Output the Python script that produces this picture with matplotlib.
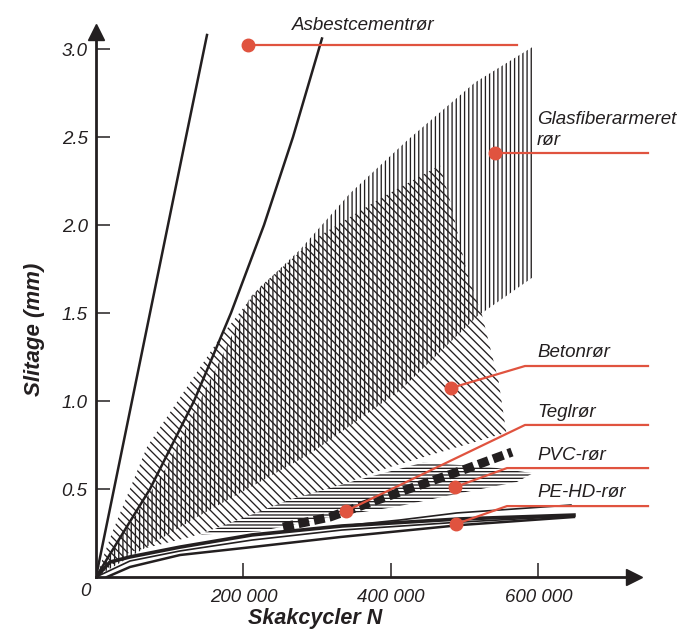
import matplotlib
matplotlib.use('agg')
import matplotlib.pyplot as plt

plt.rcParams['font.family'] = ['Liberation Sans', 'DejaVu Sans']
plt.rcParams['hatch.linewidth'] = 0.95
plt.rcParams['hatch.color'] = '#231f20'

INK = '#231f20'
RED = '#e0533f'

# asbestcement - two bounding curves
asb1_x = [0, 24400, 48800, 73200, 97600, 122000, 150500]
asb1_y = [0, 0.5, 1.0, 1.5, 2.0, 2.5, 3.08]
asb2_x = [0, 73200, 132900, 183000, 227800, 267100, 306400]
asb2_y = [0, 0.5, 1.0, 1.5, 2.0, 2.5, 3.06]

# glasfiberarmeret - vertical hatch region
glas_top_x = [0, 93600, 168100, 208800, 276600, 344400, 421700, 513900, 591200]
glas_top_y = [0, 0.61, 1.23, 1.59, 1.86, 2.18, 2.48, 2.81, 3.01]
glas_bot_x = [591200, 516600, 412200, 290200, 141000, 0]
glas_bot_y = [1.70, 1.48, 1.06, 0.70, 0.35, 0]

# beton - diagonal hatch region
beton_top_x = [0, 21700, 69200, 168100, 222400, 299700, 389100, 466400]
beton_top_y = [0, 0.25, 0.74, 1.36, 1.65, 1.93, 2.16, 2.34]
beton_bot_x = [480000, 503000, 523400, 546000, 556300, 398600, 263000, 127500, 46100, 0]
beton_bot_y = [2.14, 1.73, 1.49, 1.11, 0.82, 0.625, 0.42, 0.227, 0.142, 0]

# PVC - horizontal hatch region
pvc_top_x = [141000, 263000, 353900, 443400, 534200, 592500]
pvc_top_y = [0.24, 0.44, 0.55, 0.65, 0.625, 0.59]
pvc_bot_x = [570800, 497600, 408100, 317300, 222400]
pvc_bot_y = [0.54, 0.48, 0.40, 0.34, 0.26]

# teglroer - dashed
tegl_x = [253600, 317300, 408100, 497600, 564000]
tegl_y = [0.284, 0.341, 0.477, 0.608, 0.710]

# PE-HD curves
peA_x = [0, 18980, 46100, 113900, 211500, 333600, 493600, 648100]
peA_y = [0, 0.085, 0.114, 0.170, 0.239, 0.290, 0.330, 0.352]
peB_x = [14900, 46100, 113900, 211500, 330800, 493600, 648100]
peB_y = [0, 0.057, 0.125, 0.170, 0.227, 0.295, 0.341]
peC_x = [333600, 412200, 489500, 644000]
peC_y = [0.290, 0.324, 0.364, 0.409]
peD_x = [0, 46100, 113900, 211500, 333600, 493600, 648100]
peD_y = [0, 0.091, 0.148, 0.210, 0.267, 0.312, 0.347]

# labels: name, dot, bend, label position
labels = ['Asbestcementrør', 'Glasfiberarmeret\nrør', 'Betonrør', 'Teglrør', 'PVC-rør', 'PE-HD-rør']
dot_x = [206100, 541000, 481400, 339000, 486800, 488100]
dot_y = [3.023, 2.409, 1.074, 0.375, 0.511, 0.301]
bend_x = [206100, 541000, 581700, 581700, 557300, 557300]
bend_y = [3.023, 2.409, 1.199, 0.864, 0.619, 0.403]
end_x = [570800, 748500, 748500, 748500, 748500, 748500]
lab_x = [265800, 598000, 598000, 598000, 598000, 598000]
lab_y = [3.136, 2.540, 1.273, 0.9375, 0.693, 0.483]

fig = plt.figure(figsize=(6.84, 6.3), dpi=100)
ax = fig.add_axes([96/684, 53/630, (634-96)/684, (577-32)/630])
ax.set_xlim(0, 729500)
ax.set_ylim(0, 3.097)

ax.fill(glas_top_x + glas_bot_x, glas_top_y + glas_bot_y, facecolor='none',
        edgecolor=INK, linewidth=0, hatch='||||', zorder=1)
ax.fill(beton_top_x + beton_bot_x, beton_top_y + beton_bot_y, facecolor='none',
        edgecolor=INK, linewidth=0, hatch='\\\\\\\\', zorder=1)
ax.fill(pvc_top_x + pvc_bot_x, pvc_top_y + pvc_bot_y, facecolor='white',
        edgecolor=INK, linewidth=0, hatch='-----', zorder=2)

ax.plot(asb1_x, asb1_y, color=INK, lw=1.8, zorder=3)
ax.plot(asb2_x, asb2_y, color=INK, lw=1.8, zorder=3)

ax.plot(peA_x, peA_y, color=INK, lw=2.6, zorder=3)
ax.plot(peD_x, peD_y, color=INK, lw=1.2, zorder=3)
ax.plot(peB_x, peB_y, color=INK, lw=1.8, zorder=3)
ax.plot(peC_x, peC_y, color=INK, lw=1.2, zorder=3)

ax.plot(tegl_x, tegl_y, color=INK, lw=6.5, ls=(0, (1.2, 0.55)), zorder=4)

for i in range(len(labels)):
    ax.plot([dot_x[i], bend_x[i], end_x[i]], [dot_y[i], bend_y[i], bend_y[i]],
            color=RED, lw=1.6, zorder=5, clip_on=False)
    ax.plot(dot_x[i], dot_y[i], 'o', color=RED, ms=9, zorder=6, clip_on=False)
    ax.text(lab_x[i], lab_y[i], labels[i], fontsize=13.5, style='italic', color=INK,
            ha='left', va='center', linespacing=1.35, zorder=6, clip_on=False)

# axes styling
for s in ['top', 'right']:
    ax.spines[s].set_visible(False)
for s in ['left', 'bottom']:
    ax.spines[s].set_linewidth(2)
    ax.spines[s].set_color(INK)
ax.plot(0, 1, '^', color=INK, ms=12, transform=ax.transAxes, clip_on=False)
ax.plot(1, 0, '>', color=INK, ms=12, transform=ax.transAxes, clip_on=False)

ax.set_yticks([0.5, 1.0, 1.5, 2.0, 2.5, 3.0])
ax.set_yticklabels(['0.5', '1.0', '1.5', '2.0', '2.5', '3.0'])
ax.set_xticks([200000, 400000, 600000])
ax.set_xticklabels(['200 000', '400 000', '600 000'])
ax.tick_params(axis='both', direction='in', length=10, width=1.1, color=INK,
               labelsize=13.5, labelcolor=INK)
ax.tick_params(axis='y', pad=6)
ax.tick_params(axis='x', pad=9)
for t in ax.get_xticklabels() + ax.get_yticklabels():
    t.set_style('italic')
ax.text(-0.02, -0.027, '0', transform=ax.transAxes, ha='center', va='center',
        fontsize=13.5, style='italic', color=INK)

ax.set_ylabel('Slitage (mm)', fontsize=16, fontweight='bold', style='italic', color=INK)
ax.yaxis.set_label_coords(-0.094, 0.455)
ax.set_xlabel('Skakcycler N', fontsize=15.5, fontweight='bold', style='italic', color=INK)
ax.xaxis.set_label_coords(0.407, -0.057)

fig.savefig('out.png', dpi=100)
